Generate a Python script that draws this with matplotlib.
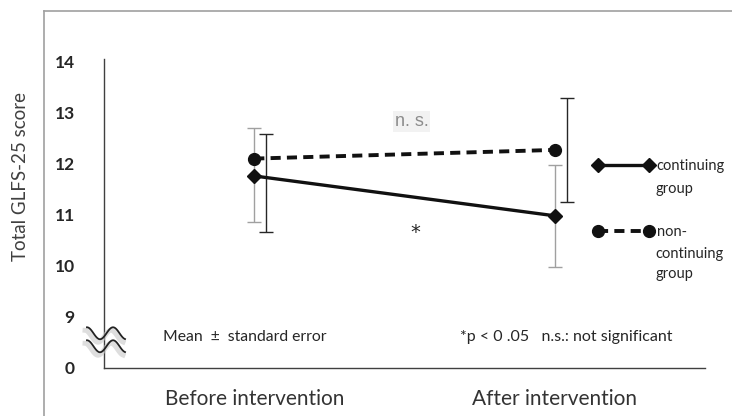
import matplotlib
matplotlib.use('Agg')
import matplotlib.pyplot as plt
import matplotlib.transforms as mtransforms
from matplotlib.lines import Line2D
import numpy as np

# data
categories = ['Before intervention', 'After intervention']
tick_values = [8, 9, 10, 11, 12, 13, 14]
tick_labels = ['0', '9', '10', '11', '12', '13', '14']

continuing_mean = [11.76, 10.98]
continuing_low = [10.86, 9.98]
continuing_high = [12.69, 11.97]

noncont_mean = [12.10, 12.27]
noncont_low = [10.66, 11.25]
noncont_high = [12.59, 13.28]

plt.rcParams['font.family'] = ['Lato', 'DejaVu Sans']

fig = plt.figure(figsize=(7.32, 4.16), dpi=100)
ax = fig.add_axes([104 / 732, 1 - 368 / 416, 601 / 732, 309 / 416])

x = np.arange(len(categories))
dark = '#262626'

# error bars (gray for continuing, black for non-continuing, shifted right)
ax.errorbar(x, continuing_mean,
            yerr=[np.subtract(continuing_mean, continuing_low),
                  np.subtract(continuing_high, continuing_mean)],
            fmt='none', ecolor='#a0a0a0', elinewidth=1.0, capsize=5, capthick=1.0, zorder=2)
ax.errorbar(x + 0.04, noncont_mean,
            yerr=[np.subtract(noncont_mean, noncont_low),
                  np.subtract(noncont_high, noncont_mean)],
            fmt='none', ecolor=dark, elinewidth=1.0, capsize=5, capthick=1.0, zorder=2)

ax.plot(x, continuing_mean, color='#111111', lw=2.4, marker='D', markersize=7,
        label='continuing', zorder=3)
ax.plot(x, noncont_mean, color='#111111', lw=2.8, ls=(0, (2.6, 1.6)), marker='o',
        markersize=8.5, label='non-', zorder=3)

ax.set_xlim(-0.5, 1.5)
ax.set_ylim(8, 14.05)
ax.set_yticks(tick_values)
ax.set_yticklabels(tick_labels, fontsize=12.5, fontweight='bold', color=dark)
ax.set_xticks(x)
ax.set_xticklabels(categories, fontsize=15, color='#333333')
ax.tick_params(axis='y', length=0, pad=21)
ax.tick_params(axis='x', length=0, pad=15)
ax.set_ylabel('Total GLFS-25 score', fontsize=13.5, color='#404040')
ax.yaxis.set_label_coords(-0.125, 0.62)

for side in ['top', 'right']:
    ax.spines[side].set_visible(False)
for side in ['left', 'bottom']:
    ax.spines[side].set_color('#404040')
    ax.spines[side].set_linewidth(1.0)

# annotations
ax.text(0.523, 12.83, 'n. s.', fontsize=13, color='#8c8c8c', family='Liberation Sans',
        ha='center', va='center', bbox=dict(boxstyle='square,pad=0.1', fc='#f2f2f2', ec='none'))
ax.text(0.537, 10.66, '*', fontsize=14, color=dark, family='DejaVu Sans',
        ha='center', va='center')
ax.text(0.098, 0.10, 'Mean  \u00b1  standard error', transform=ax.transAxes, fontsize=11.3,
        color=dark, va='center')
ax.text(0.592, 0.10, '*p < 0 .05   n.s.: not significant', transform=ax.transAxes,
        fontsize=11.5, color=dark, va='center')

# legend: first label line next to the sample, rest written below
leg = ax.legend(loc='upper left', bbox_to_anchor=(580 / 732, 1 - 146 / 416),
                bbox_transform=fig.transFigure, frameon=False, numpoints=2,
                handlelength=4.1, handletextpad=0.25, fontsize=10.5, labelspacing=3.55)
for t in leg.get_texts():
    t.set_color(dark)
fig.text(655 / 732, 1 - 189 / 416, 'group', fontsize=10.5, color=dark, va='center')
fig.text(655 / 732, 1 - 264 / 416, 'continuing\ngroup', fontsize=10.5, color=dark,
         va='center', linespacing=1.6)

# axis break marks
wx = np.linspace(-17, 21, 80)
wy = 6 * np.cos(2 * np.pi * (wx + 17) / 26)
px = -0.5 + wx / 300.0
py = 8.68 + wy / 51.3
for dy in [0, -13]:
    shadow = ax.transData + mtransforms.ScaledTranslation(-2 / 100, (dy - 3) / 100, fig.dpi_scale_trans)
    trans = ax.transData + mtransforms.ScaledTranslation(0, dy / 100, fig.dpi_scale_trans)
    ax.plot(px, py, color='#c8c8c8', lw=3.5, alpha=0.6, clip_on=False, zorder=4, transform=shadow)
    ax.plot(px, py, color='#222222', lw=1.3, clip_on=False, zorder=5, transform=trans)

# frame lines around the picture
fig.add_artist(Line2D([44 / 732, 44 / 732], [0, 1 - 11 / 416], color='#a0a0a0', lw=1.2))
fig.add_artist(Line2D([44 / 732, 1], [1 - 11 / 416, 1 - 11 / 416], color='#a0a0a0', lw=1.2))

fig.savefig('out.png', dpi=100)
